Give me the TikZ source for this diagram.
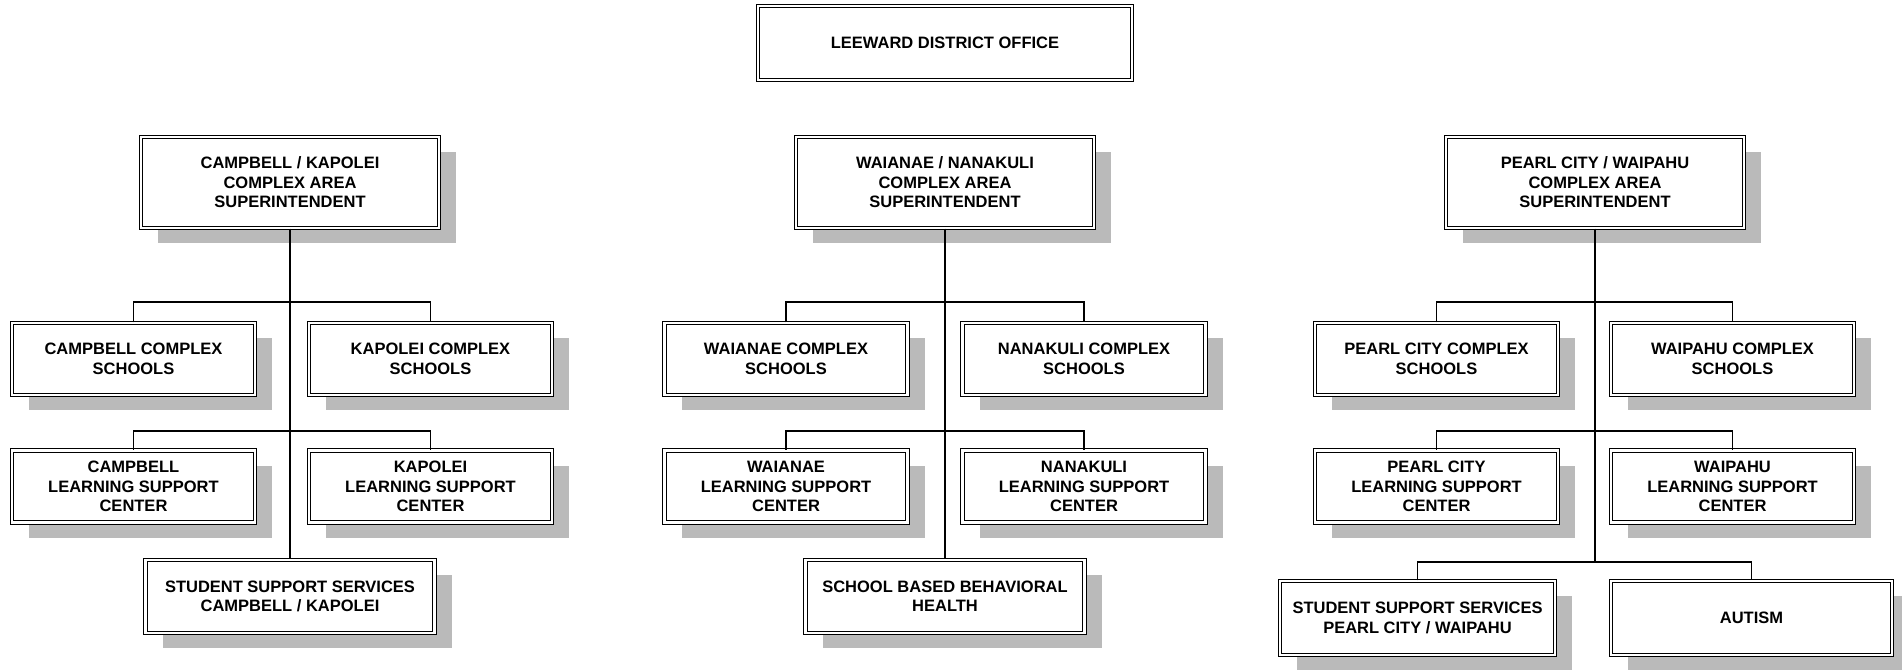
\documentclass[tikz,border=0pt]{standalone}
\usepackage{fontspec}
\setmainfont{Liberation Sans}
\usetikzlibrary{shadows}
\begin{document}
\begin{tikzpicture}[x=1pt,y=-1pt,
  plainbox/.style={draw=black, line width=1.1pt, double=white, double distance=2.6pt,
    fill=white, align=center, inner sep=0pt,
    font=\fontsize{16.5}{19.4}\selectfont\bfseries},
  box/.style={plainbox,
    drop shadow={shadow xshift=17pt, shadow yshift=-15pt, fill=black!27, opacity=1}},
  sup/.style={box, minimum width=298pt, minimum height=91pt},
  cbox/.style={box, minimum width=243pt, minimum height=72pt},
  link/.style={draw=black, line width=1.5pt}]
\useasboundingbox (0,0) rectangle (1902,671);
\fill[white] (0,0) rectangle (1902,671);

% top
\node[plainbox, minimum width=374pt, minimum height=74pt] (ldo) at (945,43) {LEEWARD DISTRICT OFFICE};

% superintendents
\node[sup] (cks) at (290,182.5) {CAMPBELL / KAPOLEI\\COMPLEX AREA\\SUPERINTENDENT};
\node[sup] (wns) at (945,182.5) {WAIANAE / NANAKULI\\COMPLEX AREA\\SUPERINTENDENT};
\node[sup] (pws) at (1595,182.5) {PEARL CITY / WAIPAHU\\COMPLEX AREA\\SUPERINTENDENT};

% complex schools
\node[cbox] (cc) at (133.5,359) {CAMPBELL COMPLEX\\SCHOOLS};
\node[cbox] (kc) at (430.5,359) {KAPOLEI COMPLEX\\SCHOOLS};
\node[cbox] (wc) at (786,359) {WAIANAE COMPLEX\\SCHOOLS};
\node[cbox] (nc) at (1084,359) {NANAKULI COMPLEX\\SCHOOLS};
\node[cbox] (pc) at (1436.5,359) {PEARL CITY COMPLEX\\SCHOOLS};
\node[cbox] (wpc) at (1732.5,359) {WAIPAHU COMPLEX\\SCHOOLS};

% learning support centers
\node[cbox] (cl) at (133.5,486.5) {CAMPBELL\\LEARNING SUPPORT\\CENTER};
\node[cbox] (kl) at (430.5,486.5) {KAPOLEI\\LEARNING SUPPORT\\CENTER};
\node[cbox] (wl) at (786,486.5) {WAIANAE\\LEARNING SUPPORT\\CENTER};
\node[cbox] (nl) at (1084,486.5) {NANAKULI\\LEARNING SUPPORT\\CENTER};
\node[cbox] (pl) at (1436.5,486.5) {PEARL CITY\\LEARNING SUPPORT\\CENTER};
\node[cbox] (wpl) at (1732.5,486.5) {WAIPAHU\\LEARNING SUPPORT\\CENTER};

% bottom row
\node[box, minimum width=289pt, minimum height=73pt] (sssck) at (290,596.5) {STUDENT SUPPORT SERVICES\\CAMPBELL / KAPOLEI};
\node[box, minimum width=279pt, minimum height=73pt] (sbbh) at (945,596.5) {SCHOOL BASED BEHAVIORAL\\HEALTH};
\node[box, minimum width=275pt, minimum height=74pt] (ssspw) at (1417.5,618) {STUDENT SUPPORT SERVICES\\PEARL CITY / WAIPAHU};
\node[box, minimum width=281pt, minimum height=74pt] (aut) at (1751.5,618) {AUTISM};

% bus coordinates
\coordinate (ckb1) at (290,302);
\coordinate (ckb2) at (290,431);
\coordinate (wnb1) at (945,302);
\coordinate (wnb2) at (945,431);
\coordinate (pwb1) at (1595,302);
\coordinate (pwb2) at (1595,431);
\coordinate (pwb3) at (1595,562);

% Campbell / Kapolei
\draw[link] (cks.south) -- (sssck.north);
\draw[link] (cc.north) |- (ckb1) -| (kc.north);
\draw[link] (cl.north) |- (ckb2) -| (kl.north);
% Waianae / Nanakuli
\draw[link] (wns.south) -- (sbbh.north);
\draw[link] (wc.north) |- (wnb1) -| (nc.north);
\draw[link] (wl.north) |- (wnb2) -| (nl.north);
% Pearl City / Waipahu
\draw[link] (pws.south) -- (pwb3);
\draw[link] (pc.north) |- (pwb1) -| (wpc.north);
\draw[link] (pl.north) |- (pwb2) -| (wpl.north);
\draw[link] (ssspw.north) |- (pwb3) -| (aut.north);
\end{tikzpicture}
\end{document}
